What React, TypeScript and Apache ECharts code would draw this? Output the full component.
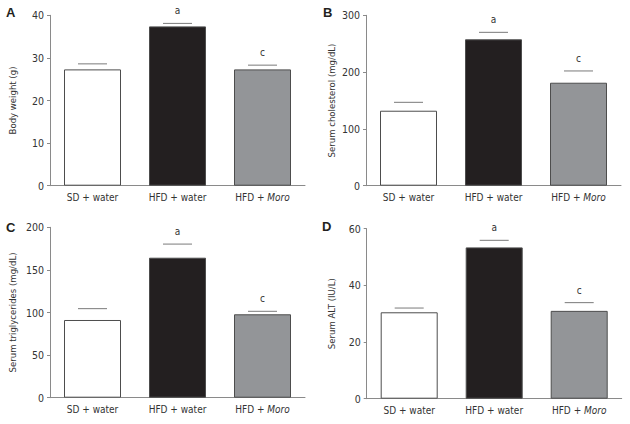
import React, { useEffect, useRef } from "react";
import * as echarts from "echarts";

const categories = ["SD + water", "HFD + water", "HFD + Moro"];
const letters = ["", "a", "c"];

const bodyWeight = [27.3, 37.4, 27.3];
const bodyWeightErr = [28.6, 38.1, 28.3];
const cholesterol = [132, 257.7, 181.3];
const cholesterolErr = [146.8, 270, 202];
const triglycerides = [91.2, 164.3, 97.9];
const triglyceridesErr = [104.5, 180.3, 101.4];
const alt = [30.5, 53.4, 31.0];
const altErr = [32, 55.9, 33.9];

const panelLetters = ["A", "B", "C", "D"];
const yNames = ["Body weight (g)", "Serum cholesterol (mg/dL)", "Serum triglycerides (mg/dL)", "Serum ALT (IU/L)"];
const yMax = [40, 300, 200, 60];
const yInterval = [10, 100, 50, 20];

const values = [bodyWeight, cholesterol, triglycerides, alt];
const errs = [bodyWeightErr, cholesterolErr, triglyceridesErr, altErr];

const barColors = ["#ffffff", "#231f20", "#939598"];
const FONT = "'DejaVu Sans Condensed', 'Noto Sans', sans-serif";

const grids = [
  { left: 50, top: 15.3, width: 255, height: 170.4 },
  { left: 366, top: 15.3, width: 255, height: 170.4 },
  { left: 50, top: 227.3, width: 255, height: 170.4 },
  { left: 366.7, top: 228.7, width: 255, height: 170 },
];
const titlePos = [
  { left: 6, top: 6 },
  { left: 323, top: 6 },
  { left: 6, top: 221 },
  { left: 322, top: 220 },
];

export default function App() {
  const ref = useRef<HTMLDivElement>(null);
  useEffect(() => {
    if (!ref.current) return;
    const chart = echarts.init(ref.current, null, { renderer: "svg" });
    const option: any = {
      animation: false,
      backgroundColor: "#ffffff",
      title: panelLetters.map((t, i) => ({
        text: t,
        left: titlePos[i].left,
        top: titlePos[i].top,
        padding: 0,
        textStyle: { fontSize: 13, fontWeight: "bold", color: "#231f20", fontFamily: "'Liberation Sans', Arial, sans-serif" },
      })),
      grid: grids.map((g) => ({ ...g, containLabel: false })),
      xAxis: grids.map((_, i) => ({
        type: "category",
        gridIndex: i,
        data: categories,
        axisLine: { lineStyle: { color: "#8a8a8a", width: 1 } },
        axisTick: { show: false },
        axisLabel: {
          interval: 0,
          margin: 7,
          color: "#333",
          fontSize: 10,
          fontFamily: FONT,
          formatter: (v: string) => (v === "HFD + Moro" ? "HFD + {i|Moro}" : v),
          rich: { i: { fontStyle: "italic", fontSize: 10, fontFamily: FONT, color: "#333" } },
        },
      })),
      yAxis: grids.map((_, i) => ({
        type: "value",
        gridIndex: i,
        min: 0,
        max: yMax[i],
        interval: yInterval[i],
        name: yNames[i],
        nameLocation: "middle",
        nameGap: i % 2 === 0 ? 33 : 30,
        nameTextStyle: { fontSize: 9.5, color: "#333", fontFamily: FONT },
        axisLine: { show: true, lineStyle: { color: "#8a8a8a", width: 1 } },
        axisTick: { show: true, length: 3, lineStyle: { color: "#8a8a8a" } },
        axisLabel: { margin: 6, color: "#333", fontSize: 10.5, fontFamily: FONT },
        splitLine: { show: false },
      })),
      series: [
        ...values.map((vals, i) => ({
          type: "bar",
          xAxisIndex: i,
          yAxisIndex: i,
          barWidth: 57,
          data: vals.map((v, j) => ({
            value: v,
            itemStyle: { color: barColors[j], borderColor: "#4d4d4d", borderWidth: 1 },
          })),
        })),
        ...errs.map((ev, i) => ({
          type: "custom",
          xAxisIndex: i,
          yAxisIndex: i,
          data: ev.map((v, j) => [j, v]),
          renderItem: (params: any, api: any) => {
            const p = api.coord([api.value(0), api.value(1)]);
            const letter = letters[params.dataIndex];
            const children: any[] = [
              {
                type: "line",
                shape: { x1: p[0] - 14.5, y1: p[1], x2: p[0] + 14.5, y2: p[1] },
                style: { stroke: "#7a7a7a", lineWidth: 1 },
              },
            ];
            if (letter) {
              children.push({
                type: "text",
                style: {
                  text: letter,
                  x: p[0],
                  y: p[1] - 12.5,
                  align: "center",
                  verticalAlign: "middle",
                  fontSize: 10,
                  fontFamily: FONT,
                  fill: "#333",
                },
              });
            }
            return { type: "group", children };
          },
        })),
      ],
    };
    chart.setOption(option);
    return () => chart.dispose();
  }, []);
  return (
    <div
      ref={ref}
      style={{ position: "fixed", left: 0, top: 0, width: 630, height: 424, background: "#fff" }}
    />
  );
}
